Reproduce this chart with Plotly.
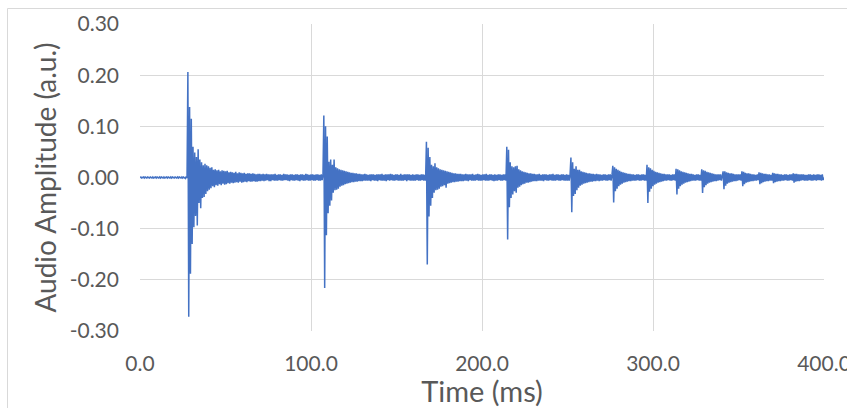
import plotly.graph_objects as go

# ---------------- data ----------------
SAMPLE_STEP_MS = 0.5  # one amplitude value every 0.5 ms, starting at 0 ms

amplitude = [
    # 0 - 9.5 ms
    0.000, 0.001, -0.001, 0.000, 0.001, -0.001, 0.001, 0.000, -0.001, 0.001, 0.000, -0.001, 0.001, 0.000, -0.001, 0.001, -0.001, 0.000, 0.001, -0.001,
    # 10 - 19.5
    0.001, 0.000, -0.001, 0.001, -0.001, 0.001, 0.000, -0.001, 0.001, -0.001, 0.000, 0.001, -0.001, 0.001, 0.000, -0.001, 0.001, -0.001, 0.001, 0.000,
    # 20 - 29.5
    -0.001, 0.001, 0.000, -0.001, 0.001, -0.001, 0.001, 0.000, -0.001, 0.001, -0.001, 0.001, 0.000, -0.002, 0.002, -0.001, 0.206, -0.272, 0.138, -0.188,
    # 30 - 39.5
    0.115, -0.130, 0.060, -0.097, 0.049, -0.075, 0.040, -0.094, 0.055, -0.050, 0.035, -0.060, 0.030, -0.040, 0.024, -0.038, 0.027, -0.032, 0.024, -0.027,
    # 40 - 49.5
    0.022, -0.024, 0.019, -0.021, 0.020, -0.017, 0.015, -0.019, 0.016, -0.015, 0.014, -0.016, 0.015, -0.013, 0.012, -0.015, 0.014, -0.012, 0.013, -0.014,
    # 50 - 59.5
    0.012, -0.013, 0.013, -0.011, 0.010, -0.012, 0.011, -0.010, 0.010, -0.011, 0.009, -0.010, 0.011, -0.009, 0.008, -0.010, 0.010, -0.008, 0.009, -0.010,
    # 60 - 69.5
    0.008, -0.009, 0.009, -0.008, 0.007, -0.009, 0.008, -0.007, 0.008, -0.008, 0.007, -0.008, 0.008, -0.007, 0.007, -0.008, 0.006, -0.008, 0.007, -0.007,
    # 70 - 79.5
    0.007, -0.007, 0.006, -0.006, 0.007, -0.007, 0.006, -0.006, 0.007, -0.005, 0.006, -0.007, 0.006, -0.007, 0.006, -0.005, 0.006, -0.006, 0.007, -0.006,
    # 80 - 89.5
    0.005, -0.006, 0.006, -0.005, 0.006, -0.006, 0.005, -0.006, 0.007, -0.005, 0.006, -0.005, 0.006, -0.006, 0.005, -0.007, 0.006, -0.005, 0.006, -0.006,
    # 90 - 99.5
    0.005, -0.006, 0.006, -0.005, 0.006, -0.006, 0.005, -0.007, 0.006, -0.005, 0.006, -0.006, 0.005, -0.006, 0.007, -0.005, 0.006, -0.006, 0.005, -0.006,
    # 100 - 109.5
    0.006, -0.005, 0.006, -0.006, 0.005, -0.006, 0.006, -0.005, 0.006, -0.006, 0.005, -0.006, 0.006, -0.005, 0.006, 0.121, -0.216, 0.100, -0.113, 0.080,
    # 110 - 119.5
    -0.070, 0.031, -0.055, 0.035, -0.045, 0.025, -0.030, 0.035, -0.025, 0.020, -0.024, 0.018, -0.022, 0.016, -0.018, 0.015, -0.016, 0.014, -0.015, 0.013,
    # 120 - 129.5
    -0.013, 0.012, -0.012, 0.011, -0.011, 0.010, -0.010, 0.009, -0.009, 0.009, -0.009, 0.008, -0.008, 0.008, -0.008, 0.007, -0.007, 0.007, -0.007, 0.006,
    # 130 - 139.5
    -0.007, 0.006, -0.006, 0.007, -0.006, 0.006, -0.006, 0.005, -0.006, 0.006, -0.007, 0.006, -0.005, 0.006, -0.006, 0.005, -0.006, 0.006, -0.007, 0.006,
    # 140 - 149.5
    -0.005, 0.006, -0.006, 0.007, -0.006, 0.005, -0.006, 0.006, -0.007, 0.006, -0.005, 0.006, -0.006, 0.007, -0.005, 0.006, -0.006, 0.005, -0.006, 0.006,
    # 150 - 159.5
    -0.005, 0.006, -0.006, 0.005, -0.006, 0.007, -0.006, 0.005, -0.006, 0.006, -0.005, 0.006, -0.007, 0.006, -0.005, 0.006, -0.006, 0.005, -0.006, 0.006,
    # 160 - 169.5
    -0.006, 0.005, -0.006, 0.006, -0.005, 0.006, -0.006, 0.005, -0.006, 0.006, -0.005, 0.006, -0.006, 0.005, -0.006, 0.070, -0.170, 0.058, -0.076, 0.040,
    # 170 - 179.5
    -0.055, 0.025, -0.040, 0.022, -0.030, 0.028, -0.025, 0.020, -0.024, 0.018, -0.022, 0.016, -0.018, 0.015, -0.017, 0.014, -0.015, 0.013, -0.020, 0.012,
    # 180 - 189.5
    -0.012, 0.011, -0.011, 0.010, -0.010, 0.009, -0.009, 0.008, -0.009, 0.008, -0.008, 0.007, -0.008, 0.007, -0.007, 0.007, -0.007, 0.006, -0.007, 0.006,
    # 190 - 199.5
    -0.006, 0.007, -0.006, 0.006, -0.007, 0.006, -0.005, 0.006, -0.006, 0.007, -0.006, 0.005, -0.006, 0.006, -0.005, 0.007, -0.006, 0.006, -0.006, 0.005,
    # 200 - 209.5
    -0.006, 0.006, -0.005, 0.006, -0.006, 0.007, -0.006, 0.005, -0.006, 0.006, -0.005, 0.006, -0.006, 0.005, -0.007, 0.006, -0.006, 0.005, -0.006, 0.006,
    # 210 - 219.5
    -0.005, 0.006, -0.006, 0.005, -0.006, 0.006, -0.005, 0.006, -0.006, 0.060, -0.121, 0.054, -0.058, 0.030, -0.040, 0.022, -0.033, 0.020, -0.027, 0.022,
    # 220 - 229.5
    -0.030, 0.023, -0.020, 0.016, -0.018, 0.014, -0.015, 0.012, -0.013, 0.011, -0.012, 0.010, -0.010, 0.009, -0.010, 0.008, -0.009, 0.008, -0.008, 0.007,
    # 230 - 239.5
    -0.007, 0.007, -0.007, 0.006, -0.007, 0.006, -0.006, 0.007, -0.006, 0.005, -0.006, 0.006, -0.007, 0.006, -0.005, 0.006, -0.006, 0.005, -0.006, 0.006,
    # 240 - 249.5
    -0.005, 0.006, -0.006, 0.007, -0.006, 0.005, -0.006, 0.006, -0.005, 0.006, -0.006, 0.005, -0.006, 0.006, -0.005, 0.006, -0.006, 0.005, -0.006, 0.006,
    # 250 - 259.5
    -0.006, 0.005, -0.006, 0.006, 0.039, -0.068, 0.030, -0.036, 0.017, -0.032, 0.022, -0.025, 0.015, -0.020, 0.015, -0.016, 0.012, -0.014, 0.011, -0.012,
    # 260 - 269.5
    0.010, -0.011, 0.009, -0.010, 0.008, -0.009, 0.008, -0.008, 0.007, -0.008, 0.007, -0.007, 0.006, -0.007, 0.007, -0.006, 0.006, -0.007, 0.006, -0.006,
    # 270 - 279.5
    0.005, -0.006, 0.006, -0.005, 0.006, -0.006, 0.005, -0.006, 0.006, -0.005, 0.006, -0.006, 0.005, 0.023, -0.049, 0.020, -0.027, 0.017, -0.022, 0.015,
    # 280 - 289.5
    -0.017, 0.013, -0.014, 0.011, -0.012, 0.010, -0.010, 0.009, -0.009, 0.008, -0.008, 0.007, -0.007, 0.007, -0.007, 0.006, -0.006, 0.006, -0.006, 0.005,
    # 290 - 299.5
    -0.006, 0.006, -0.005, 0.006, -0.006, 0.005, -0.006, 0.006, -0.005, 0.006, -0.006, 0.005, -0.006, 0.025, -0.050, 0.020, -0.028, 0.018, -0.022, 0.015,
    # 300 - 309.5
    -0.017, 0.013, -0.014, 0.011, -0.012, 0.010, -0.010, 0.009, -0.009, 0.008, -0.008, 0.007, -0.007, 0.007, -0.006, 0.006, -0.006, 0.006, -0.005, 0.006,
    # 310 - 319.5
    -0.006, 0.005, -0.006, 0.006, -0.005, 0.006, -0.006, 0.017, -0.033, 0.016, -0.022, 0.014, -0.017, 0.012, -0.014, 0.011, -0.012, 0.010, -0.010, 0.009,
    # 320 - 329.5
    -0.009, 0.008, -0.008, 0.007, -0.007, 0.007, -0.006, 0.006, -0.006, 0.005, -0.006, 0.006, -0.005, 0.006, -0.006, 0.005, -0.006, 0.016, -0.030, 0.014,
    # 330 - 339.5
    -0.019, 0.013, -0.015, 0.011, -0.012, 0.010, -0.010, 0.009, -0.009, 0.008, -0.008, 0.007, -0.007, 0.006, -0.007, 0.006, -0.006, 0.006, -0.005, 0.006,
    # 340 - 349.5
    -0.006, 0.005, 0.012, -0.023, 0.012, -0.016, 0.010, -0.012, 0.009, -0.010, 0.008, -0.009, 0.008, -0.008, 0.007, -0.007, 0.006, -0.007, 0.006, -0.006,
    # 350 - 359.5
    0.006, -0.005, 0.006, -0.006, 0.012, -0.017, 0.011, -0.013, 0.009, -0.010, 0.008, -0.009, 0.008, -0.008, 0.007, -0.007, 0.006, -0.007, 0.006, -0.006,
    # 360 - 369.5
    0.005, -0.006, 0.006, -0.005, 0.010, -0.013, 0.009, -0.011, 0.008, -0.009, 0.007, -0.008, 0.007, -0.007, 0.006, -0.007, 0.006, -0.006, 0.005, -0.006,
    # 370 - 379.5
    0.009, -0.011, 0.008, -0.009, 0.007, -0.008, 0.007, -0.007, 0.006, -0.007, 0.006, -0.006, 0.005, -0.006, 0.006, -0.005, 0.006, -0.006, 0.005, -0.006,
    # 380 - 389.5
    0.006, -0.005, 0.006, -0.006, 0.008, -0.010, 0.007, -0.008, 0.007, -0.007, 0.006, -0.007, 0.006, -0.006, 0.006, -0.005, 0.006, -0.006, 0.005, -0.006,
    # 390 - 399.5
    0.005, -0.006, 0.006, -0.005, 0.006, -0.006, 0.005, -0.006, 0.006, -0.005, 0.005, -0.006, 0.006, -0.005, 0.006, -0.005, 0.005, -0.006, 0.006, -0.005,
    # 400
    0.000,
]

time_ms = [i * SAMPLE_STEP_MS for i in range(len(amplitude))]

x_tick_values = [0, 100, 200, 300, 400]
x_tick_labels = ["0.0", "100.0", "200.0", "300.0", "400.0"]
y_tick_values = [-0.3, -0.2, -0.1, 0.0, 0.1, 0.2, 0.3]
y_tick_labels = ["-0.30", "-0.20", "-0.10", "0.00", "0.10", "0.20", "0.30"]

x_title = "Time (ms)"
y_title = "Audio Amplitude (a.u.)"

# ---------------- figure ----------------
FONT = "Lato"
TEXT_COLOR = "#595959"
GRID_COLOR = "#d9d9d9"

fig = go.Figure()
fig.add_trace(go.Scatter(
    x=time_ms, y=amplitude, mode="lines",
    line=dict(color="#4472C4", width=1.5),
    hoverinfo="skip", showlegend=False,
))

fig.update_layout(
    width=847, height=408,
    margin=dict(l=140, r=23, t=24, b=77, autoexpand=False),
    paper_bgcolor="white", plot_bgcolor="white",
    font=dict(family=FONT, color=TEXT_COLOR),
    showlegend=False,
)

fig.update_xaxes(
    range=[0, 400], tickvals=x_tick_values, ticktext=x_tick_labels,
    showgrid=True, gridcolor=GRID_COLOR, gridwidth=1,
    zeroline=False, showline=False, ticks="",
    tickfont=dict(family=FONT, size=21, color=TEXT_COLOR),
    ticklabelstandoff=18, ticklabeloverflow="allow",
    title=dict(text=x_title, font=dict(family=FONT, size=29, color=TEXT_COLOR), standoff=6),
    automargin=False,
)
fig.update_yaxes(
    range=[-0.3, 0.3], tickvals=y_tick_values, ticktext=y_tick_labels,
    showgrid=True, gridcolor=GRID_COLOR, gridwidth=1,
    zeroline=False, showline=False, ticks="",
    tickfont=dict(family=FONT, size=21, color=TEXT_COLOR),
    ticklabelstandoff=20,
    title=dict(text=y_title, font=dict(family=FONT, size=28, color=TEXT_COLOR), standoff=4),
    automargin=False,
)

# outer chart frame (light grey), extends past the right / bottom edges
fig.add_shape(
    type="rect", xref="paper", yref="paper",
    x0=(7.5 - 140) / 684, x1=1.2, y0=-0.5, y1=(331 - 8.5) / 307,
    line=dict(color=GRID_COLOR, width=1), fillcolor="rgba(0,0,0,0)",
    layer="below",
)

fig.write_html(
    "out.html",
    config={"displayModeBar": False},
    post_script="document.body.style.margin='0';document.body.style.overflow='hidden';",
)
